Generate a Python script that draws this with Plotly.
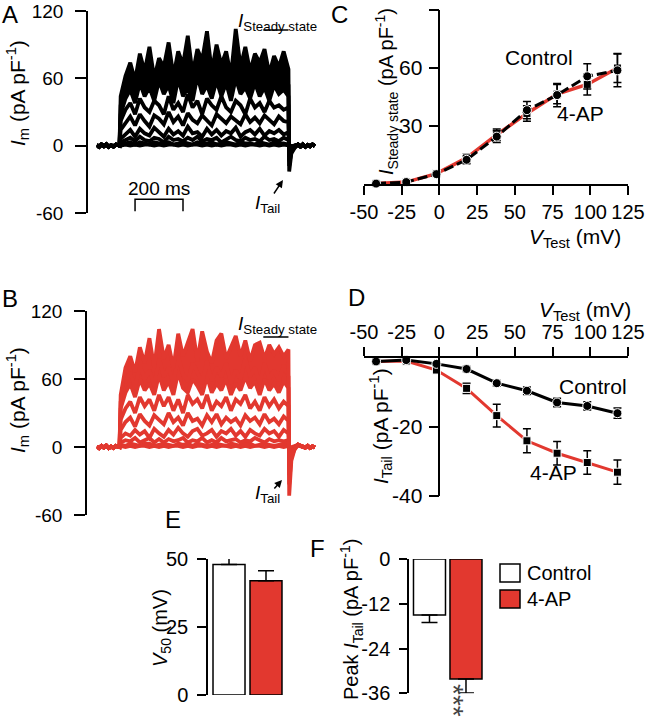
import plotly.graph_objects as go

W, H = 647, 717
def fx(p): return p / W
def fy(p): return 1 - p / H

FONT = "Arial, 'Liberation Sans', Helvetica, sans-serif"
RED = "#E2382F"

# ---------------- data ----------------
# Panels A/B: current traces (pA/pF), time in ms
T_PRE = [0, 10, 20, 30, 40, 50, 60, 70, 80, 90]
T_ONSET = [95]
T_PULSE = list(range(100, 801, 20))
T_TAIL = [803, 812, 825]
T_POST = [840, 850, 860, 870, 880, 890, 900, 910]

BASE_PRE = [0.5, -1, 1, -0.5, 1.2, -1, 0.4, -0.8, 1, 0]
BASE_POST_A = [1, -0.8, 1.2, -1, 0.6, -0.5, 1, -0.4]
BASE_POST_B = [2, 1, 0.5, -0.5, 1, -0.8, 0.6, -0.4]

CTRL_TRACES = [
    [0, 1, 0, 1, 0, 1, 1, 0, 1, 0, 1, 1, 0, 1, 0, 1, 1, 0, 1, 0, 1, 0, 1, 1, 0, 1, 0, 1, 1, 0, 1, 0, 1, 0, 1, 0],
    [1, 2, 3, 1, 3, 2, 1, 3, 2, 2, 3, 1, 2, 3, 2, 1, 3, 2, 2, 3, 1, 2, 3, 2, 1, 3, 2, 2, 1, 3, 2, 1, 3, 2, 2, 1],
    [3, 5, 7, 4, 8, 5, 4, 7, 6, 3, 8, 5, 6, 4, 7, 5, 8, 4, 6, 5, 7, 3, 6, 8, 5, 4, 7, 5, 6, 4, 8, 5, 6, 4, 7, 5],
    [6, 10, 14, 8, 15, 11, 9, 16, 12, 8, 15, 10, 13, 9, 17, 11, 12, 8, 15, 10, 14, 9, 13, 11, 16, 8, 12, 14, 10, 15, 9, 13, 11, 14, 10, 12],
    [14, 20, 26, 18, 28, 22, 17, 27, 24, 19, 30, 21, 26, 18, 29, 23, 20, 27, 22, 18, 28, 24, 20, 26, 22, 19, 28, 21, 25, 20, 27, 23, 19, 26, 22, 21],
    [22, 32, 38, 28, 42, 34, 30, 40, 36, 28, 44, 32, 38, 30, 46, 34, 40, 28, 42, 36, 32, 44, 34, 30, 40, 36, 28, 42, 34, 38, 30, 40, 34, 36, 32, 34],
    [28, 42, 50, 38, 56, 44, 52, 40, 58, 46, 54, 38, 60, 44, 52, 40, 62, 46, 54, 42, 58, 44, 56, 40, 60, 46, 52, 42, 56, 44, 52, 40, 54, 46, 50, 44],
    [36, 52, 60, 46, 68, 54, 62, 48, 72, 56, 64, 50, 76, 58, 66, 50, 74, 60, 68, 48, 70, 56, 64, 52, 78, 58, 66, 50, 70, 56, 62, 52, 66, 58, 64, 54],
    [44, 62, 74, 58, 82, 66, 88, 60, 78, 70, 92, 62, 84, 72, 98, 64, 86, 76, 102, 66, 90, 72, 84, 62, 104, 70, 88, 66, 82, 74, 86, 64, 80, 70, 84, 68],
]
CTRL_TAILS = [
    [-0.5, -0.2, 0], [-1, -0.3, 0], [-2, -0.6, -0.2], [-4, -1.2, -0.4], [-7, -2, -0.7],
    [-10, -3, -1], [-14, -4, -1.4], [-18, -5, -1.8], [-23, -7, -2.3],
]

AP_TRACES = [
    [1, 0, 1, 0, 1, 1, 0, 1, 0, 1, 0, 1, 1, 0, 1, 0, 1, 1, 0, 1, 0, 1, 1, 0, 1, 0, 1, 0, 1, 1, 0, 1, 0, 1, 0, 1],
    [2, 1, 3, 2, 1, 3, 3, 1, 2, 3, 2, 1, 3, 2, 3, 1, 3, 2, 1, 2, 3, 2, 1, 3, 2, 1, 3, 3, 1, 2, 3, 2, 1, 2, 3, 2],
    [4, 6, 5, 8, 4, 6, 8, 4, 7, 4, 7, 5, 6, 8, 4, 6, 5, 8, 4, 6, 4, 8, 5, 6, 7, 4, 6, 5, 8, 6, 4, 7, 5, 6, 5, 6],
    [8, 12, 10, 15, 11, 14, 8, 16, 12, 9, 15, 11, 17, 12, 9, 14, 16, 10, 12, 15, 9, 14, 12, 16, 10, 14, 9, 15, 12, 10, 16, 12, 14, 9, 15, 12],
    [15, 22, 26, 18, 29, 23, 19, 28, 24, 20, 30, 22, 26, 19, 30, 23, 25, 19, 28, 22, 29, 20, 26, 22, 25, 19, 28, 23, 26, 20, 29, 22, 25, 20, 27, 23],
    [24, 34, 40, 30, 44, 36, 42, 32, 46, 36, 44, 32, 42, 30, 46, 38, 42, 34, 46, 32, 40, 36, 44, 32, 42, 38, 46, 34, 40, 32, 44, 36, 42, 34, 40, 36],
    [34, 48, 56, 44, 60, 50, 56, 46, 64, 50, 58, 46, 66, 52, 48, 60, 54, 46, 62, 48, 56, 50, 60, 46, 56, 50, 62, 52, 58, 46, 60, 50, 56, 48, 58, 52],
    [40, 58, 66, 52, 72, 60, 68, 54, 78, 62, 70, 56, 80, 64, 58, 74, 66, 56, 76, 58, 70, 62, 74, 56, 68, 60, 78, 62, 70, 56, 74, 60, 68, 58, 72, 62],
    [46, 70, 80, 66, 88, 74, 96, 70, 104, 78, 90, 70, 100, 80, 92, 104, 76, 102, 84, 74, 94, 100, 78, 88, 98, 80, 94, 76, 90, 92, 78, 90, 82, 88, 80, 86],
]
AP_TAILS = [
    [-1, -0.3, 0], [-2, -0.6, -0.1], [-4, -1.2, -0.3], [-7, -2, -0.5], [-12, -3.5, -0.8],
    [-18, -5, -1], [-25, -7, -1.5], [-33, -9, -2], [-43, -12, -2.5],
]

SCALE_BAR_MS = [160, 360]
SS_WINDOW_MS = [695, 800]

# Panels C/D: I-V relations
V_TEST = [-42, -22, -2, 18, 38, 58, 78, 98, 118]
SS_CTRL = [0.2, 1.0, 5.1, 12.5, 24.5, 38.2, 46.0, 55.7, 58.8]
SS_CTRL_SE = [0.3, 0.5, 0.8, 2.0, 3.0, 4.5, 6.0, 6.5, 8.5]
SS_AP = [0.2, 1.0, 5.4, 13.5, 25.5, 36.5, 46.5, 51.5, 60.0]
SS_AP_SE = [0.3, 0.5, 0.8, 2.0, 3.0, 4.0, 5.0, 5.5, 7.5]

TAIL_CTRL = [-1.0, -0.6, -1.7, -3.2, -7.3, -9.5, -12.9, -13.9, -16.0]
TAIL_CTRL_SE = [0.3, 0.3, 0.5, 0.7, 0.8, 1.1, 1.2, 1.2, 1.5]
TAIL_AP = [-1.0, -0.9, -3.5, -8.8, -16.7, -24.0, -27.6, -30.3, -33.1]
TAIL_AP_SE = [0.3, 0.4, 0.6, 1.5, 3.3, 3.5, 3.4, 3.4, 3.5]

# Panels E/F: summary bars
GROUPS = ["Control", "4-AP"]
V50 = [48.0, 42.0]
V50_SE = [4.1, 3.7]
PEAK_TAIL = [-15.0, -32.2]
PEAK_TAIL_SE = [2.0, 3.7]

# ---------------- figure ----------------
fig = go.Figure()

def add_traces(traces, tails, post, color, xa, ya):
    n = len(traces)
    for i, (pulse, tail) in enumerate(zip(traces, tails)):
        xs = T_PRE + T_ONSET + T_PULSE + T_TAIL + T_POST
        ys = BASE_PRE + [0] + pulse + tail + post
        fill = "tonexty" if i >= n - 2 else "none"
        fig.add_trace(go.Scatter(x=xs, y=ys, mode="lines", xaxis=xa, yaxis=ya, fill=fill,
                                 fillcolor=color, line=dict(color=color, width=3.8), hoverinfo="skip"))

add_traces(CTRL_TRACES, CTRL_TAILS, BASE_POST_A, "black", "x", "y")
add_traces(AP_TRACES, AP_TAILS, BASE_POST_B, RED, "x2", "y2")

# scale bar (panel A)
fig.add_trace(go.Scatter(x=[SCALE_BAR_MS[0], SCALE_BAR_MS[0], SCALE_BAR_MS[1], SCALE_BAR_MS[1]],
                         y=[-58.5, -47.7, -47.7, -58.5], mode="lines", xaxis="x", yaxis="y",
                         line=dict(color="black", width=1.5)))

def err(arr, **kw):
    d = dict(type="data", array=arr, color="black", thickness=1.5, width=4)
    d.update(kw)
    return d

# Panel C
fig.add_trace(go.Scatter(x=V_TEST, y=SS_AP, mode="lines+markers", xaxis="x3", yaxis="y3",
                         line=dict(color=RED, width=3.5),
                         marker=dict(symbol="square", size=8, color="black", line=dict(color="white", width=1)),
                         error_y=err(SS_AP_SE), cliponaxis=False))
fig.add_trace(go.Scatter(x=V_TEST, y=SS_CTRL, mode="lines+markers", xaxis="x3", yaxis="y3",
                         line=dict(color="black", width=3, dash="10px,4px"),
                         marker=dict(symbol="circle", size=9, color="black", line=dict(color="white", width=1)),
                         error_y=err(SS_CTRL_SE), cliponaxis=False))
# Panel D
fig.add_trace(go.Scatter(x=V_TEST, y=TAIL_AP, mode="lines+markers", xaxis="x4", yaxis="y4",
                         line=dict(color=RED, width=3),
                         marker=dict(symbol="square", size=8, color="black", line=dict(color="white", width=1)),
                         error_y=err(TAIL_AP_SE), cliponaxis=False))
fig.add_trace(go.Scatter(x=V_TEST, y=TAIL_CTRL, mode="lines+markers", xaxis="x4", yaxis="y4",
                         line=dict(color="black", width=3),
                         marker=dict(symbol="circle", size=9, color="black", line=dict(color="white", width=1)),
                         error_y=err(TAIL_CTRL_SE), cliponaxis=False))

# Panel E
fig.add_trace(go.Bar(x=GROUPS, y=V50, xaxis="x5", yaxis="y5", width=0.865,
                     marker=dict(color=["white", RED], line=dict(color="black", width=1.5)),
                     error_y=dict(type="data", symmetric=False, array=V50_SE, arrayminus=[0, 0],
                                  color="black", thickness=1.5, width=8)))
# Panel F
fig.add_trace(go.Bar(x=GROUPS, y=PEAK_TAIL, xaxis="x6", yaxis="y6", width=0.877,
                     marker=dict(color=["white", RED], line=dict(color="black", width=1.5)),
                     error_y=dict(type="data", symmetric=False, array=[0, 0], arrayminus=PEAK_TAIL_SE,
                                  color="black", thickness=1.5, width=8)))

def lab(v):
    return [str(t) for t in v]

def yax(pos, dom, rng, tickvals, size=19, ticklen=9, standoff=5, **kw):
    d = dict(anchor="free", position=fx(pos), domain=[fy(dom[0]), fy(dom[1])], range=rng,
             tickvals=tickvals, ticktext=lab(tickvals), showline=True, linecolor="black", linewidth=1.5,
             ticks="outside", ticklen=ticklen, tickwidth=1.5, tickcolor="black", automargin=False,
             showgrid=False, zeroline=False, ticklabelstandoff=standoff,
             tickfont=dict(size=size, color="black", family=FONT))
    d.update(kw)
    return d

def xhidden(dom, rng, anchor, **kw):
    d = dict(domain=[fx(dom[0]), fx(dom[1])], range=rng, visible=False, anchor=anchor,
             showgrid=False, zeroline=False, automargin=False)
    d.update(kw)
    return d

XT = [-50, -25, 0, 25, 50, 75, 100, 125]
def xiv(anchor, side):
    return dict(domain=[fx(364), fx(628)], range=[-50, 125], anchor=anchor, side=side,
                tickvals=XT, ticktext=lab(XT), tickangle=0, showline=True, linecolor="black", linewidth=1.5,
                ticks="outside", ticklen=9, tickwidth=1.5, tickcolor="black", automargin=False,
                showgrid=False, zeroline=False, ticklabelstandoff=0,
                tickfont=dict(size=20, color="black", family=FONT))

fig.update_layout(
    width=W, height=H, margin=dict(l=0, r=0, t=0, b=0, autoexpand=False),
    paper_bgcolor="white", plot_bgcolor="rgba(0,0,0,0)", showlegend=False,
    font=dict(family=FONT, color="black", size=19),
    xaxis=xhidden((96.7, 317), [0, 919], "y"),
    yaxis=yax(87, (213, 11), [-60, 120], [-60, 0, 60, 120], ticklen=11, standoff=8),
    xaxis2=xhidden((96.7, 317), [0, 919], "y2"),
    yaxis2=yax(86, (515, 311), [-60, 120], [-60, 0, 60, 120], ticklen=11, standoff=8),
    xaxis3=xiv("y3", "bottom"),
    yaxis3=yax(439.4, (184, 10), [0, 90], [30, 60, 90], size=21, ticklen=10, standoff=2),
    xaxis4=xiv("y4", "top"),
    yaxis4=yax(439.4, (496, 358), [-40, 0], [-20, -40], size=21, ticklen=10, standoff=2),
    xaxis5=xhidden((209, 290), [-0.541, 1.649], "y5", type="category"),
    yaxis5=yax(207, (695, 559), [0, 50], [0, 25, 50], size=20, ticklen=9, standoff=5),
    xaxis6=xhidden((410, 490), [-0.534, 1.658], "y6", type="category"),
    yaxis6=yax(408, (693.3, 559), [-36, 0], [0, -12, -24, -36], size=20, ticklen=8, standoff=5),
)

ann = []
def txt(x, y, text, size=20, angle=0, xanchor="center", color="black"):
    ann.append(dict(x=fx(x), y=fy(y), xref="paper", yref="paper", text=text, showarrow=False,
                    textangle=angle, xanchor=xanchor, yanchor="middle",
                    font=dict(size=size, color=color, family=FONT)))

# panel letters
for lx, ly, lt in [(10, 14, "A"), (10, 298, "B"), (339, 14, "C"), (356, 297, "D"), (173, 519, "E"), (317, 548, "F")]:
    txt(lx, ly, lt, size=24)

IM = "<i>I</i><sub>m</sub> (pA pF<sup>-1</sup>)"
txt(18, 93, IM, size=21, angle=-90)
txt(17, 400, IM, size=21, angle=-90)
txt(386, 92, "<i>I</i><sub>Steady state</sub> (pA pF<sup>-1</sup>)", size=20, angle=-90)
txt(380, 426, "<i>I</i><sub>Tail</sub> (pA pF<sup>-1</sup>)", size=21, angle=-90)
txt(161, 628, "<i>V</i><sub>50</sub> (mV)", size=20, angle=-90)
txt(351, 620, "Peak <i>I</i><sub>Tail</sub> (pA pF<sup>-1</sup>)", size=20, angle=-90)
txt(575, 238, "<i>V</i><sub>Test</sub> (mV)", size=21)
txt(585, 311, "<i>V</i><sub>Test</sub> (mV)", size=21)

txt(539, 58, "Control", size=21)
txt(580, 113, "4-AP", size=21)
txt(593, 386, "Control", size=21)
txt(553, 472, "4-AP", size=21)

txt(277, 22, "<i>I</i><sub>Steady state</sub>", size=19)
txt(277, 325, "<i>I</i><sub>Steady state</sub>", size=19)
txt(267, 204, "<i>I</i><sub>Tail</sub>", size=19)
txt(267, 494, "<i>I</i><sub>Tail</sub>", size=19)
txt(159, 188, "200 ms", size=19)

txt(454, 700, "***", size=28, angle=90, color="#444444")

# legend
txt(525, 573, "Control", size=20, xanchor="left")
txt(525, 599, "4-AP", size=20, xanchor="left")

# arrows to tail currents
ann.append(dict(x=777, y=-30.6, xref="x", yref="y", ax=-10, ay=15, text="", showarrow=True,
                arrowhead=2, arrowsize=1, arrowwidth=1.5, arrowcolor="black"))
ann.append(dict(x=773, y=-29.1, xref="x2", yref="y2", ax=-9, ay=10, text="", showarrow=True,
                arrowhead=2, arrowsize=1, arrowwidth=1.5, arrowcolor="black"))
fig.update_layout(annotations=ann)

shapes = [
    dict(type="line", xref="x", yref="y", x0=SS_WINDOW_MS[0], x1=SS_WINDOW_MS[1], y0=103, y1=103,
         line=dict(color="black", width=1.5)),
    dict(type="line", xref="x2", yref="y2", x0=SS_WINDOW_MS[0], x1=SS_WINDOW_MS[1], y0=97, y1=97,
         line=dict(color="black", width=1.5)),
    dict(type="rect", xref="paper", yref="paper", x0=fx(500), x1=fx(520), y0=fy(582), y1=fy(564),
         fillcolor="white", line=dict(color="black", width=1.5)),
    dict(type="rect", xref="paper", yref="paper", x0=fx(500), x1=fx(520), y0=fy(608), y1=fy(590),
         fillcolor=RED, line=dict(color="black", width=1.5)),
]
fig.update_layout(shapes=shapes)

fig.write_html("out.html", config={"displayModeBar": False},
               post_script="document.body.style.margin='0px';document.body.style.overflow='hidden';")
